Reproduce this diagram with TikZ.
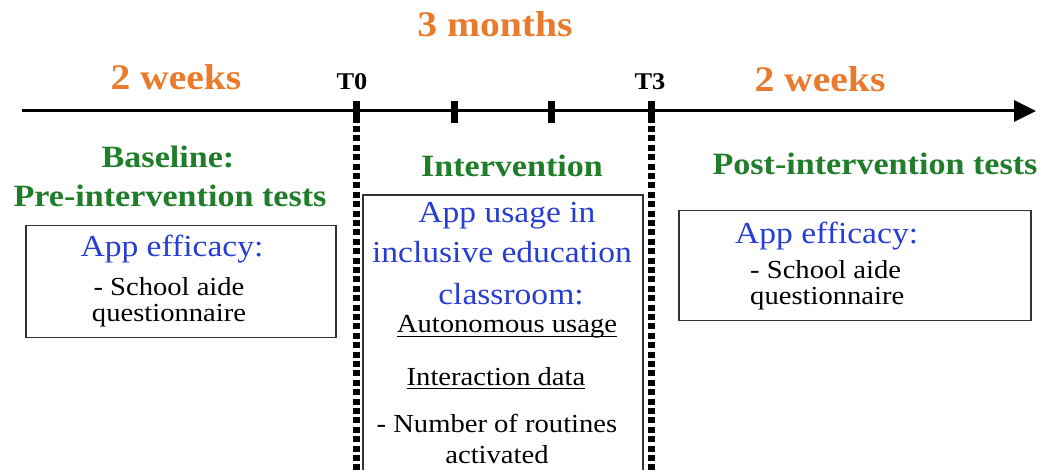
\documentclass[tikz,border=0pt]{standalone}
\usepackage{fontspec}
\setmainfont[FakeStretch=1.1]{Liberation Serif}
\usetikzlibrary{arrows.meta}
\definecolor{orng}{RGB}{234,122,44}
\definecolor{grn}{RGB}{32,125,42}
\definecolor{blu}{RGB}{40,62,210}
\newcommand\ulbox[1]{\setbox0\hbox{#1}\rlap{\rule[-4pt]{\wd0}{1.2pt}}\box0}
\tikzset{
  durtext/.style={text=orng, font=\fontsize{36}{40}\selectfont\bfseries, anchor=base, inner sep=0pt},
  phasetext/.style={text=grn, font=\fontsize{31}{35}\selectfont\bfseries, anchor=base, inner sep=0pt},
  bluetext/.style={text=blu, font=\fontsize{30.5}{34}\selectfont, anchor=base, inner sep=0pt},
  bodytext/.style={text=black, font=\fontsize{26}{30}\selectfont, anchor=base, inner sep=0pt},
  bodypair/.style={text=black, font=\fontsize{26}{26}\selectfont, anchor=base, inner sep=0pt},
  timelabel/.style={text=black, font=\fontsize{24}{28}\selectfont\bfseries, anchor=base, inner sep=0pt},
  tickmark/.style={fill=black, minimum width=7pt, minimum height=22pt, inner sep=0pt, outer sep=0pt},
  dotline/.style={line width=7pt, dash pattern=on 6pt off 3.4pt},
  panel/.style={draw=black!80, line width=1.5pt, inner sep=0pt, anchor=north west},
}
\begin{document}
\begin{tikzpicture}[x=1pt,y=-1pt]
\useasboundingbox (0,0) rectangle (1047,470);
\fill[white] (0,0) rectangle (1047,470);

% timeline
\coordinate (tstart) at (22,111);
\coordinate (tend) at (1036,111);
\draw[line width=3pt, -{Triangle[length=22pt,width=21pt]}] (tstart) -- (tend);

% ticks
\node[tickmark] (t0) at (356,112) {};
\node[tickmark] (t1) at (454,112) {};
\node[tickmark] (t2) at (551,112) {};
\node[tickmark] (t3) at (651,112) {};

% dotted separators
\coordinate (d0top) at (356,126);
\coordinate (d0bot) at (356,472);
\coordinate (d3top) at (651,126);
\coordinate (d3bot) at (651,472);
\draw[dotline] (d0top) -- (d0bot);
\draw[dotline] (d3top) -- (d3bot);

% time labels
\node[durtext] (months) at (495,37) {3 months};
\node[durtext] (wk1) at (176,90) {2 weeks};
\node[durtext] (wk2) at (820,92) {2 weeks};
\node[timelabel] (lt0) at (352,90) {T0};
\node[timelabel] (lt3) at (650,90) {T3};

% phase titles
\node[phasetext] (base1) at (168,168) {Baseline:};
\node[phasetext] (base2) at (170,207) {Pre-intervention tests};
\node[phasetext] (interv) at (512,177) {Intervention};
\node[phasetext] (post) at (875,175) {Post-intervention tests};

% left box
\node[panel, minimum width=310pt, minimum height=112pt] (lbox) at (25,225) {};
\node[bluetext] (lb1) at (172,257) {App efficacy:};
\node[bodypair, align=center] (lb2) at (169,322) {- School aide\\questionnaire};

% right box
\node[panel, minimum width=352pt, minimum height=110pt] (rbox) at (678,210) {};
\node[bluetext, anchor=base west] (rb1) at (735,244) {App efficacy:};
\node[bodypair, align=left, anchor=base west] (rb2) at (750,305) {- School aide\\questionnaire};

% middle box (open at the bottom)
\coordinate (mbl) at (363,475);
\coordinate (mtl) at (363,195);
\coordinate (mtr) at (643,195);
\coordinate (mbr) at (643,475);
\draw[draw=black!80, line width=1.5pt] (mbl) -- (mtl) -- (mtr) -- (mbr);
\node[bluetext] (mb1) at (507,223) {App usage in};
\node[bluetext] (mb2) at (502,263) {inclusive education};
\node[bluetext] (mb3) at (511,305) {classroom:};
\node[bodytext] (mb4) at (507,333) {\ulbox{Autonomous usage}};
\node[bodytext] (mb5) at (496,385) {\ulbox{Interaction data}};
\node[bodytext] (mb6) at (497,432) {- Number of routines};
\node[bodytext] (mb7) at (497,463) {activated};
\end{tikzpicture}
\end{document}
